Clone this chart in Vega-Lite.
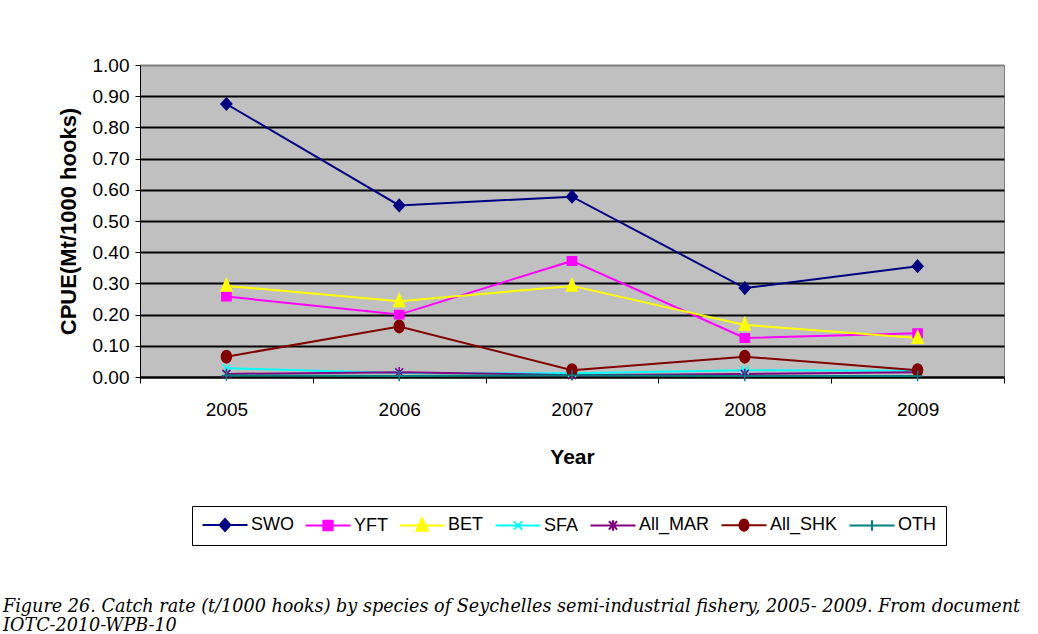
{
  "$schema": "https://vega.github.io/schema/vega-lite/v6.json",
  "autosize": {"type": "none"},
  "width": 864,
  "height": 312,
  "padding": {"left": 140, "top": 65, "right": 34, "bottom": 257},
  "background": "white",
  "config": {
    "view": {"fill": "#C0C0C0", "stroke": "#808080", "strokeWidth": 1},
    "font": "Liberation Sans"
  },
  "title": {
    "text": ["Figure 26. Catch rate (t/1000 hooks) by species of Seychelles semi-industrial fishery, 2005- 2009. From document", "IOTC-2010-WPB-10"],
    "orient": "bottom",
    "anchor": "start",
    "frame": "bounds",
    "offset": 52,
    "dx": -54,
    "font": "DejaVu Serif",
    "fontSize": 17.6,
    "fontStyle": "italic",
    "fontWeight": "normal",
    "color": "black",
    "lineHeight": 19.5,
    "baseline": "top"
  },
  "data": {
    "values": [
      {"year": "2005", "species": "SWO", "cpue": 0.875},
      {"year": "2006", "species": "SWO", "cpue": 0.55},
      {"year": "2007", "species": "SWO", "cpue": 0.578},
      {"year": "2008", "species": "SWO", "cpue": 0.285},
      {"year": "2009", "species": "SWO", "cpue": 0.355},
      {"year": "2005", "species": "YFT", "cpue": 0.258},
      {"year": "2006", "species": "YFT", "cpue": 0.2},
      {"year": "2007", "species": "YFT", "cpue": 0.372},
      {"year": "2008", "species": "YFT", "cpue": 0.125},
      {"year": "2009", "species": "YFT", "cpue": 0.14},
      {"year": "2005", "species": "BET", "cpue": 0.292},
      {"year": "2006", "species": "BET", "cpue": 0.243},
      {"year": "2007", "species": "BET", "cpue": 0.292},
      {"year": "2008", "species": "BET", "cpue": 0.167},
      {"year": "2009", "species": "BET", "cpue": 0.125},
      {"year": "2005", "species": "SFA", "cpue": 0.028},
      {"year": "2006", "species": "SFA", "cpue": 0.013},
      {"year": "2007", "species": "SFA", "cpue": 0.012},
      {"year": "2008", "species": "SFA", "cpue": 0.022},
      {"year": "2009", "species": "SFA", "cpue": 0.02},
      {"year": "2005", "species": "All_MAR", "cpue": 0.01},
      {"year": "2006", "species": "All_MAR", "cpue": 0.015},
      {"year": "2007", "species": "All_MAR", "cpue": 0.006},
      {"year": "2008", "species": "All_MAR", "cpue": 0.01},
      {"year": "2009", "species": "All_MAR", "cpue": 0.015},
      {"year": "2005", "species": "All_SHK", "cpue": 0.065},
      {"year": "2006", "species": "All_SHK", "cpue": 0.162},
      {"year": "2007", "species": "All_SHK", "cpue": 0.022},
      {"year": "2008", "species": "All_SHK", "cpue": 0.065},
      {"year": "2009", "species": "All_SHK", "cpue": 0.022},
      {"year": "2005", "species": "OTH", "cpue": 0.005},
      {"year": "2006", "species": "OTH", "cpue": 0.003},
      {"year": "2007", "species": "OTH", "cpue": 0.006},
      {"year": "2008", "species": "OTH", "cpue": 0.003},
      {"year": "2009", "species": "OTH", "cpue": 0.003}
    ]
  },
  "encoding": {
    "x": {
      "field": "year",
      "type": "ordinal",
      "scale": {"type": "band", "paddingInner": 0, "paddingOuter": 0},
      "axis": {
        "title": "Year",
        "titleFont": "Liberation Sans",
        "titleFontSize": 21,
        "titleFontWeight": "bold",
        "titleColor": "black",
        "titlePadding": 27,
        "labelAngle": 0,
        "labelFont": "Liberation Sans",
        "labelFontSize": 19,
        "labelColor": "black",
        "labelPadding": 17,
        "tickBand": "extent",
        "tickSize": 6,
        "tickColor": "black",
        "domainColor": "black",
        "domainWidth": 2,
        "grid": false
      }
    },
    "y": {
      "field": "cpue",
      "type": "quantitative",
      "scale": {"domain": [0, 1], "nice": false},
      "axis": {
        "title": "CPUE(Mt/1000 hooks)",
        "titleFont": "Liberation Sans",
        "titleFontSize": 22,
        "titleFontWeight": "bold",
        "titleColor": "black",
        "titlePadding": 12,
        "values": [0, 0.1, 0.2, 0.3, 0.4, 0.5, 0.6, 0.7, 0.8, 0.9, 1],
        "format": ".2f",
        "labelFont": "Liberation Sans",
        "labelFontSize": 19,
        "labelColor": "black",
        "labelPadding": 6,
        "tickSize": 5,
        "tickColor": "black",
        "domainColor": "black",
        "grid": true,
        "gridColor": {"condition": {"test": "datum.value >= 1", "value": "#808080"}, "value": "black"},
        "gridWidth": 2
      }
    }
  },
  "layer": [
    {
      "mark": {"type": "line", "strokeWidth": 2},
      "encoding": {
        "color": {
          "field": "species",
          "type": "nominal",
          "scale": {
            "domain": ["SWO", "YFT", "BET", "SFA", "All_MAR", "All_SHK", "OTH"],
            "range": ["#000080", "#FF00FF", "#FFFF00", "#00FFFF", "#800080", "#800000", "#008080"]
          },
          "legend": {
            "title": null,
            "orient": "none",
            "legendX": 52,
            "legendY": 441,
            "direction": "horizontal",
            "columns": 7,
            "strokeColor": "black",
            "fillColor": "white",
            "padding": 10,
            "labelFont": "Liberation Sans",
            "labelFontSize": 18,
            "labelColor": "black",
            "symbolSize": 225,
            "symbolStrokeWidth": 2,
            "symbolOffset": 14,
            "labelOffset": 17,
            "columnPadding": 7,
            "encode": {
              "symbols": {
                "update": {
                  "shape": {"signal": "datum.value === 'SWO' ? 'M-3,0H3M0,-0.8L0.72,0L0,0.8L-0.72,0Z' : datum.value === 'YFT' ? 'M-3,0H3M-0.62,-0.62H0.62V0.62H-0.62Z' : datum.value === 'BET' ? 'M-3,0H3M0,-0.95L0.78,0.7H-0.78Z' : datum.value === 'SFA' ? 'M-3,0H3M-0.55,-0.55L0.55,0.55M-0.55,0.55L0.55,-0.55' : datum.value === 'All_MAR' ? 'M-3,0H3M-0.55,-0.55L0.55,0.55M-0.55,0.55L0.55,-0.55M0,-0.7V0.7' : datum.value === 'All_SHK' ? 'M-3,0H3M-0.6,0A0.6,0.75,0,1,0,0.6,0A0.6,0.75,0,1,0,-0.6,0Z' : 'M-3,0H3M-0.6,0H0.6M0,-0.7V0.7'"},
                  "fill": {"signal": "scale('color', datum.value)"},
                  "stroke": {"signal": "scale('color', datum.value)"},
                  "strokeWidth": {"value": 2},
                  "opacity": {"value": 1}
                }
              }
            }
          }
        }
      }
    },
    {
      "transform": [{"filter": "datum.species === 'SWO'"}],
      "mark": {"type": "point", "shape": "M0,-1.5L1.35,0L0,1.5L-1.35,0Z", "filled": true, "fill": "#000080", "stroke": "#000080", "size": 64, "strokeWidth": 1.5, "opacity": 1}
    },
    {
      "transform": [{"filter": "datum.species === 'YFT'"}],
      "mark": {"type": "point", "shape": "M-1.15,-1.05H1.15V1.05H-1.15Z", "filled": true, "fill": "#FF00FF", "stroke": "#FF00FF", "size": 64, "strokeWidth": 1.5, "opacity": 1}
    },
    {
      "transform": [{"filter": "datum.species === 'BET'"}],
      "mark": {"type": "point", "shape": "M0,-1.8L1.35,1.3H-1.35Z", "filled": true, "fill": "#FFFF00", "stroke": "#FFFF00", "size": 64, "strokeWidth": 1.5, "opacity": 1}
    },
    {
      "transform": [{"filter": "datum.species === 'SFA'"}],
      "mark": {"type": "point", "shape": "M-1,-1L1,1M-1,1L1,-1", "filled": true, "fill": "#00FFFF", "stroke": "#00FFFF", "size": 64, "strokeWidth": 1.5, "opacity": 1}
    },
    {
      "transform": [{"filter": "datum.species === 'All_MAR'"}],
      "mark": {"type": "point", "shape": "M-1,-1L1,1M-1,1L1,-1M0,-1.3V1.3", "filled": true, "fill": "#800080", "stroke": "#800080", "size": 64, "strokeWidth": 1.5, "opacity": 1}
    },
    {
      "transform": [{"filter": "datum.species === 'All_SHK'"}],
      "mark": {"type": "point", "shape": "M-1.25,0A1.25,1.55,0,1,0,1.25,0A1.25,1.55,0,1,0,-1.25,0Z", "filled": true, "fill": "#800000", "stroke": "#800000", "size": 64, "strokeWidth": 1.5, "opacity": 1}
    },
    {
      "transform": [{"filter": "datum.species === 'OTH'"}],
      "mark": {"type": "point", "shape": "M-1.2,0H1.2M0,-1.3V1.3", "filled": true, "fill": "#008080", "stroke": "#008080", "size": 64, "strokeWidth": 1.5, "opacity": 1}
    }
  ]
}
